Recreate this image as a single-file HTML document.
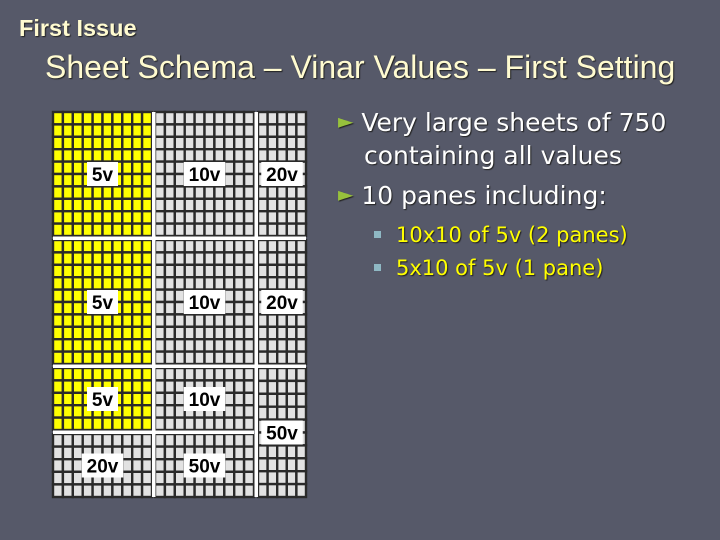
<!DOCTYPE html>
<html><head><meta charset="utf-8">
<style>
html,body{margin:0;padding:0;background:#565969;}
#slide{position:relative;width:720px;height:540px;overflow:hidden;background:#565969;font-family:"Liberation Sans",sans-serif;}
.t{position:absolute;white-space:nowrap;text-shadow:1px 1px 1px #222;}
</style></head><body>
<div id="slide">
<div class="t" style="left:19px;top:15px;font-size:23.5px;font-weight:bold;color:#fffbd0;">First Issue</div>
<div class="t" style="left:45px;top:49px;font-size:32px;color:#fffbd0;">Sheet Schema – Vinar Values – First Setting</div>
<div style="position:absolute;left:338px;top:108px;font-family:'DejaVu Sans',sans-serif;">
  <div class="t" style="left:0;top:0;font-size:25px;color:#fff;"><span style="color:#97c13c;font-size:20px;position:relative;top:-3px;">►</span> Very large sheets of 750</div>
  <div class="t" style="left:26px;top:33px;font-size:25px;color:#fff;">containing all values</div>
  <div class="t" style="left:0;top:73px;font-size:25px;color:#fff;"><span style="color:#97c13c;font-size:20px;position:relative;top:-3px;">►</span> 10 panes including:</div>
  <div class="t" style="left:36px;top:115px;font-size:21px;color:#ffff00;"><span style="display:inline-block;width:7px;height:7px;background:#8fb8c4;margin-right:15px;position:relative;top:-4px;"></span>10x10 of 5v (2 panes)</div>
  <div class="t" style="left:36px;top:148px;font-size:21px;color:#ffff00;"><span style="display:inline-block;width:7px;height:7px;background:#8fb8c4;margin-right:15px;position:relative;top:-4px;"></span>5x10 of 5v (1 pane)</div>
</div>
<svg id="sheet" width="720" height="540" style="position:absolute;left:0;top:0;"></svg>
</div>
<script>
const paneLabels=["5v","10v","20v","5v","10v","20v","5v","10v","50v","20v","50v"];
const paneCols=[10,10,5,10,10,5,10,10,5,10,10];
const paneRows=[10,10,10,10,10,10,5,5,10,5,5];
const paneYellow=[1,0,0,1,0,0,1,0,0,0,0];
const geom=[[53,112,99,124],[155,112,99,124],[258,112,48,124],
 [53,240,99,124],[155,240,99,124],[258,240,48,124],
 [53,368,99,62],[155,368,99,62],[258,368,48,129],
 [53,434,99,63],[155,434,99,63]];
const gaps=[[152,112,3.5,385],[254.5,112,3.5,385],[53,236.5,253,3.5],[53,364.5,253,3.5],[53,430.5,201,3.5]];
const NS="http://www.w3.org/2000/svg";
const svg=document.getElementById('sheet');
geom.forEach((g,i)=>{
  const [x,y,w,h]=g;const c=paneCols[i],r=paneRows[i];
  const grp=document.createElementNS(NS,'g');
  
  
  const cw=w/c,ch=h/r;
  for(let a=0;a<c;a++)for(let b=0;b<r;b++){
    const cell=document.createElementNS(NS,'rect');
    cell.setAttribute('x',x+a*cw);cell.setAttribute('y',y+b*ch);
    cell.setAttribute('width',cw);cell.setAttribute('height',ch);
    cell.setAttribute('fill',paneYellow[i]?'#ffff00':'#e2e2e2');
    cell.setAttribute('stroke','#2a2a2a');cell.setAttribute('stroke-width','2.4');
    grp.appendChild(cell);
  }
  svg.appendChild(grp);
});
gaps.forEach(g=>{
  const r=document.createElementNS(NS,'rect');
  r.setAttribute('x',g[0]);r.setAttribute('y',g[1]);r.setAttribute('width',g[2]);r.setAttribute('height',g[3]);r.setAttribute('fill','#fff');
  
  
  svg.appendChild(r);
});
geom.forEach((g,i)=>{
  const [x,y,w,h]=g;
  const lw=paneLabels[i].length*10.5+10;
  const lx=x+w/2-lw/2, ly=y+h/2-12;
  const lr=document.createElementNS(NS,'rect');
  lr.setAttribute('x',lx);lr.setAttribute('y',ly);lr.setAttribute('width',lw);lr.setAttribute('height',24);lr.setAttribute('fill','#fff');
  
  
  svg.appendChild(lr);
  const t=document.createElementNS(NS,'text');
  t.setAttribute('x',x+w/2);t.setAttribute('y',ly+19);t.setAttribute('text-anchor','middle');
  t.setAttribute('font-family','Liberation Sans, sans-serif');t.setAttribute('font-weight','bold');t.setAttribute('font-size','19');
  
  
  t.textContent=paneLabels[i];
  svg.appendChild(t);
});
</script>
</body></html>
